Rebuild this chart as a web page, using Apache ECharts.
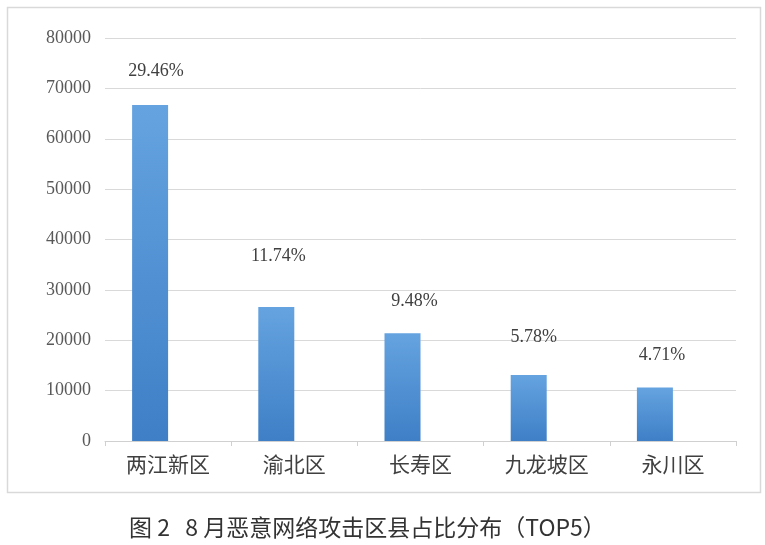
<!DOCTYPE html>
<html>
<head>
<meta charset="utf-8">
<script src="https://cdn.jsdelivr.net/npm/echarts@6/dist/echarts.min.js"></script>
<style>
  html, body { margin: 0; padding: 0; background: #fff; }
  #chart { width: 765px; height: 545px; }
</style>
</head>
<body>
<div id="chart"></div>
<script>
const districts = ['两江新区', '渝北区', '长寿区', '九龙坡区', '永川区']
const attackCounts = [66700, 26600, 21400, 13100, 10600]
const shareLabels = ['29.46%', '11.74%', '9.48%', '5.78%', '4.71%']
const yTicks = [0, 10000, 20000, 30000, 40000, 50000, 60000, 70000, 80000]
// label nudges (px) so the percentages sit where the original puts them
const labelShift = [[6, -25], [2, -42], [12, -23], [5, -29], [7, -23]]

const numFont = '"Liberation Serif", "Noto Sans CJK SC", serif'
const cjkFont = '"Noto Sans CJK SC", sans-serif'

const myChart = echarts.init(document.getElementById('chart'))
const option = {
  backgroundColor: '#fff',
  animation: false,
  title: {
    text: '图 2   8 月恶意网络攻击区县占比分布（TOP5）',
    left: 124,
    top: 511,
    textStyle: {
      color: '#333',
      fontSize: 23,
      fontWeight: 'normal',
      fontFamily: cjkFont
    }
  },
  graphic: [
    {
      type: 'rect',
      left: 5,
      top: 5,
      shape: { width: 753, height: 485 },
      style: { fill: 'none', stroke: '#d9d9d9', lineWidth: 1.5 },
      silent: true
    }
  ],
  grid: {
    top: 38,
    left: 105,
    right: 29,
    bottom: 104
  },
  xAxis: {
    type: 'category',
    data: districts,
    axisLine: { lineStyle: { color: '#d0d0d0', width: 1 } },
    axisTick: { show: true, length: 5, lineStyle: { color: '#d0d0d0' } },
    axisLabel: {
      color: '#404040',
      fontSize: 21,
      margin: 13,
      fontFamily: cjkFont
    }
  },
  yAxis: {
    type: 'value',
    min: yTicks[0],
    max: yTicks[yTicks.length - 1],
    interval: yTicks[1] - yTicks[0],
    axisLine: { show: false },
    axisTick: { show: false },
    splitLine: { lineStyle: { color: '#d9d9d9', width: 1 } },
    axisLabel: {
      color: '#595959',
      fontSize: 18,
      margin: 14,
      fontFamily: numFont,
      formatter: v => String(v)
    }
  },
  series: [
    {
      type: 'bar',
      name: '攻击次数',
      barWidth: 36,
      barGap: '0%',
      data: attackCounts.map((v, i) => ({
        value: v,
        label: { offset: labelShift[i] }
      })),
      itemStyle: {
        color: {
          type: 'linear',
          x: 0,
          y: 0,
          x2: 0,
          y2: 1,
          colorStops: [
            { offset: 0, color: '#65a3e0' },
            { offset: 1, color: '#3e7fc6' }
          ]
        }
      },
      label: {
        show: true,
        position: 'top',
        distance: 0,
        color: '#404040',
        fontSize: 18,
        fontFamily: numFont,
        formatter: p => shareLabels[p.dataIndex]
      }
    },
    {
      // empty companion series, keeps bars left of the category centre like the original
      type: 'bar',
      name: '占位',
      barWidth: 36,
      data: attackCounts.map(() => 0),
      itemStyle: { color: 'transparent' },
      silent: true
    }
  ]
}
myChart.setOption(option)
</script>
</body>
</html>
